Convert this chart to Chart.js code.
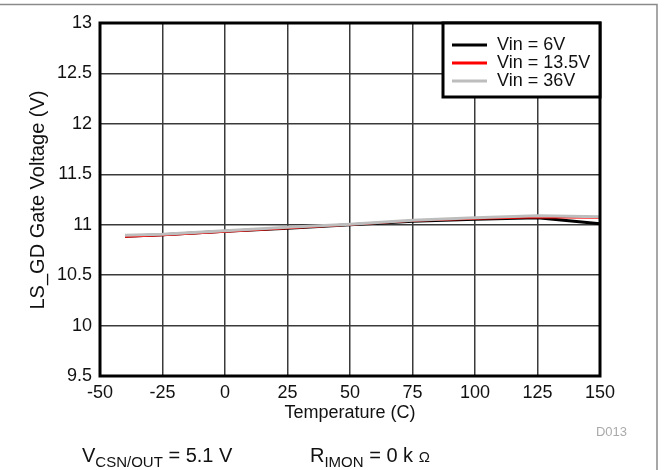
<!DOCTYPE html>
<html>
<head>
<meta charset="utf-8">
<script src="https://cdn.jsdelivr.net/npm/chart.js@4/dist/chart.umd.min.js"></script>
<style>
  body { margin: 0; background: #fff; }
  #wrap { width: 665px; height: 470px; position: relative; }
</style>
</head>
<body>
<div id="wrap"><canvas id="myChart"></canvas></div>
<script>
// temperature points (C)
const temps = [-40, -25, 0, 25, 50, 75, 100, 125, 150];

// gate voltage for each input voltage (V)
const vin6 = [10.885, 10.9, 10.935, 10.965, 11.0, 11.035, 11.055, 11.07, 11.01];
const vin13 = [10.88, 10.895, 10.93, 10.965, 11.0, 11.04, 11.06, 11.075, 11.07];
const vin36 = [10.895, 10.905, 10.94, 10.975, 11.005, 11.045, 11.07, 11.09, 11.08];

const seriesNames = ['Vin = 6V', 'Vin = 13.5V', 'Vin = 36V'];
const seriesColors = ['#000000', '#ff0000', '#bdbdbd'];

const xTicks = [-50, -25, 0, 25, 50, 75, 100, 125, 150];
const yTicks = [9.5, 10, 10.5, 11, 11.5, 12, 12.5, 13];

const font = 'Liberation Sans, Arial, Helvetica, sans-serif';

function toPoints(vals) {
  return temps.map((t, i) => ({ x: t, y: vals[i] }));
}

// frame, legend box and the extra text
const extras = {
  id: 'extras',
  afterDatasetsDraw(chart) {
    const ctx = chart.ctx;
    const a = chart.chartArea;
    ctx.save();
    ctx.strokeStyle = '#000';
    ctx.lineWidth = 3;
    ctx.strokeRect(a.left, a.top, a.right - a.left, a.bottom - a.top);
    ctx.restore();
  },
  afterDraw(chart) {
    const ctx = chart.ctx;
    const a = chart.chartArea;
    ctx.save();

    // outer page lines
    ctx.strokeStyle = '#8a8a8a';
    ctx.lineWidth = 1.5;
    ctx.beginPath();
    ctx.moveTo(0, 4.5);
    ctx.lineTo(657, 4.5);
    ctx.lineTo(657, 470);
    ctx.stroke();

    // legend
    const lx = 443, ly = a.top, lw = a.right - 443, lh = 74;
    ctx.fillStyle = '#fff';
    ctx.fillRect(lx, ly, lw, lh);
    ctx.strokeStyle = '#000';
    ctx.lineWidth = 3;
    ctx.strokeRect(lx, ly, lw, lh);
    ctx.font = '18px ' + font;
    ctx.textBaseline = 'middle';
    ctx.textAlign = 'left';
    chart.data.datasets.forEach((ds, i) => {
      const y = ly + 22 + i * 18;
      ctx.strokeStyle = ds.borderColor;
      ctx.lineWidth = 3;
      ctx.beginPath();
      ctx.moveTo(452, y);
      ctx.lineTo(487, y);
      ctx.stroke();
      ctx.fillStyle = '#111';
      ctx.fillText(ds.label, 497, y);
    });

    // axis titles
    ctx.fillStyle = '#111';
    ctx.font = '18px ' + font;
    ctx.textAlign = 'center';
    ctx.fillText('Temperature (C)', (a.left + a.right) / 2, 413);
    ctx.save();
    ctx.translate(38, 200);
    ctx.rotate(-Math.PI / 2);
    ctx.font = '20px ' + font;
    ctx.fillText('LS_GD Gate Voltage (V)', 0, 0);
    ctx.restore();

    // figure id
    ctx.fillStyle = '#aaa';
    ctx.font = '13px ' + font;
    ctx.textAlign = 'right';
    ctx.fillText('D013', 627, 432);

    // conditions line
    ctx.textBaseline = 'alphabetic';
    ctx.textAlign = 'left';
    ctx.fillStyle = '#111';
    let x = 82;
    const base = 462;
    function put(txt, size, dy) {
      ctx.font = size + 'px ' + font;
      ctx.fillText(txt, x, base + dy);
      x += ctx.measureText(txt).width;
    }
    put('V', 20, 0);
    put('CSN/OUT', 15, 5);
    put(' = 5.1 V', 20, 0);
    x = 310;
    put('R', 20, 0);
    put('IMON', 15, 5);
    put(' = 0 k ', 20, 0);
    put('\u03A9', 15, 0);

    ctx.restore();
  }
};

const context = document.getElementById('myChart').getContext('2d');
const myChart = new Chart(context, {
  type: 'line',
  data: {
    datasets: [
      {
        label: seriesNames[0],
        data: toPoints(vin6),
        borderColor: seriesColors[0],
        backgroundColor: seriesColors[0],
        borderWidth: 3,
        order: 3
      },
      {
        label: seriesNames[1],
        data: toPoints(vin13),
        borderColor: seriesColors[1],
        backgroundColor: seriesColors[1],
        borderWidth: 2,
        order: 2
      },
      {
        label: seriesNames[2],
        data: toPoints(vin36),
        borderColor: seriesColors[2],
        backgroundColor: seriesColors[2],
        borderWidth: 3,
        order: 1
      }
    ]
  },
  options: {
    responsive: true,
    maintainAspectRatio: false,
    animation: false,
    elements: {
      point: { radius: 0 },
      line: { tension: 0 }
    },
    layout: {
      padding: { left: 0, right: 65, top: 23, bottom: 0 }
    },
    scales: {
      x: {
        type: 'linear',
        min: -50,
        max: 150,
        afterFit: (scale) => { scale.height = 94; },
        afterBuildTicks: (scale) => { scale.ticks = xTicks.map(v => ({ value: v })); },
        grid: { color: '#3a3a3a', lineWidth: 1.5, drawTicks: false },
        border: { display: false },
        ticks: {
          padding: 6,
          color: '#111',
          font: { family: font, size: 18 },
          maxRotation: 0,
          callback: (v) => String(v)
        }
      },
      y: {
        min: 9.5,
        max: 13,
        afterFit: (scale) => { scale.width = 100; },
        afterBuildTicks: (scale) => { scale.ticks = yTicks.map(v => ({ value: v })); },
        grid: { color: '#3a3a3a', lineWidth: 1.5, drawTicks: false },
        border: { display: false },
        ticks: {
          padding: 8,
          color: '#111',
          font: { family: font, size: 18 },
          callback: (v) => String(v)
        }
      }
    },
    plugins: {
      legend: { display: false },
      tooltip: { enabled: false }
    }
  },
  plugins: [extras]
});
</script>
</body>
</html>
